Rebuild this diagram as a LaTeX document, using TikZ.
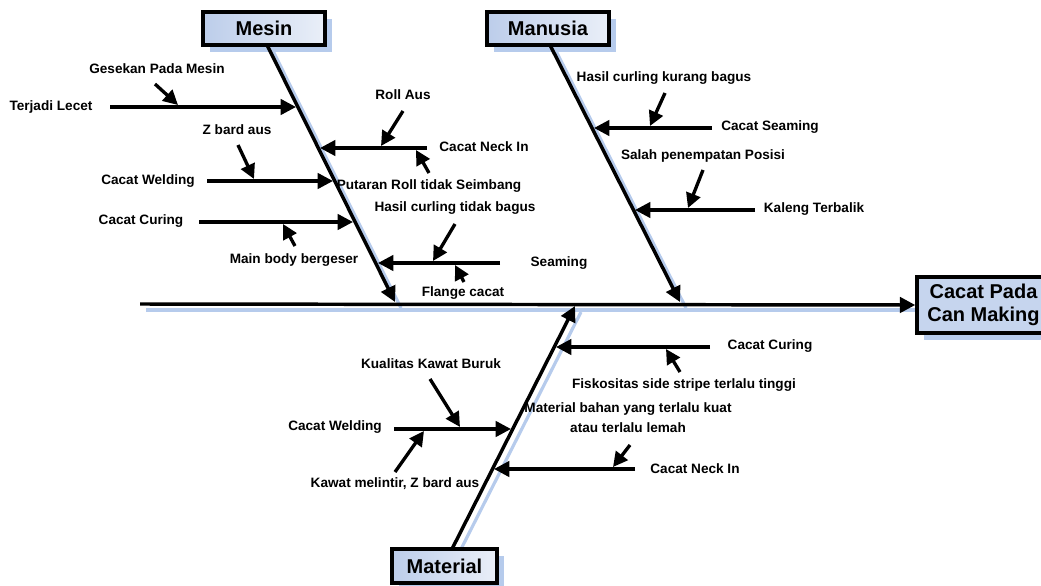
\documentclass[tikz,border=0pt]{standalone}
\usepackage{fontspec}
\setmainfont{Liberation Sans}
\usetikzlibrary{arrows.meta,shadows}
\definecolor{shcol}{RGB}{182,203,236}
\definecolor{boxL}{RGB}{188,205,234}
\definecolor{boxR}{RGB}{234,239,248}
\definecolor{boxE}{RGB}{198,213,238}
\begin{document}
\begin{tikzpicture}[x=0.75pt,y=-0.75pt,
  lbl/.style={font=\fontsize{10.2}{12}\selectfont\bfseries, inner sep=0pt, align=center},
  headbox/.style={draw, line width=2.6pt, font=\fontsize{15}{17}\selectfont\bfseries,
     left color=boxL, right color=boxR, inner sep=0pt,
     drop shadow={shadow xshift=5.2pt, shadow yshift=-5.2pt, fill=shcol, opacity=1}},
  effbox/.style={draw, line width=2.6pt, font=\fontsize{15}{17}\selectfont\bfseries,
     fill=boxE, inner sep=0pt, align=center,
     drop shadow={shadow xshift=5.2pt, shadow yshift=-5.2pt, fill=shcol, opacity=1}},
  bone/.style={line width=2.6pt, -{Triangle[length=11.5pt,width=11.5pt]}},
  branch/.style={line width=2.5pt, -{Triangle[length=11.5pt,width=11.5pt]}},
  sub/.style={line width=2.5pt, -{Triangle[length=11pt,width=11pt]}},
  shadowline/.style={line width=2.4pt, shcol}]
\useasboundingbox (0,0) rectangle (1041,585);

% shadows of spine and bones
\coordinate (ss1) at (146,310); \coordinate (ss2) at (1045,310);
\coordinate (ms1) at (273,51);  \coordinate (ms2) at (401,308);
\coordinate (hs1) at (556,51);  \coordinate (hs2) at (686,308);
\coordinate (ts1) at (458,555); \coordinate (ts2) at (581,312);
\draw[shadowline] (ss1) -- (ss2);
\draw[shadowline] (ms1) -- (ms2);
\draw[shadowline] (hs1) -- (hs2);
\draw[shadowline] (ts1) -- (ts2);

% category and effect boxes
\node[headbox, minimum width=91.5pt, minimum height=24.75pt] (mesin) at (264,28.5) {Mesin};
\node[headbox, minimum width=91.5pt, minimum height=24.75pt] (manusia) at (548,28.5) {Manusia};
\node[headbox, minimum width=78.75pt, minimum height=25.5pt] (material) at (444.5,566) {Material};
\node[effbox, minimum width=99.75pt, minimum height=42pt] (effect) at (983.5,305) {Cacat Pada\\Can Making};

% spine
\coordinate (sp0) at (140,304);
\draw[bone] (sp0) -- (effect.west);

% bones
\coordinate (mb0) at (267,45);  \coordinate (mb1) at (395,302);
\coordinate (hb0) at (550,45);  \coordinate (hb1) at (680,302);
\coordinate (tb0) at (452,549); \coordinate (tb1) at (575,306);
\draw[bone] (mb0) -- (mb1);
\draw[bone] (hb0) -- (hb1);
\draw[bone] (tb0) -- (tb1);

% ---------- Mesin ----------
\node[lbl] (a1) at (51,107) {Terjadi Lecet};
\coordinate (a1s) at (110,107); \coordinate (a1e) at (296,107);
\draw[branch] (a1s) -- (a1e);
\node[lbl] (a1x) at (157,69) {Gesekan Pada Mesin};
\coordinate (a1xs) at (155,84); \coordinate (a1xe) at (178,105);
\draw[sub] (a1xs) -- (a1xe);

\node[lbl] (a2) at (148,181) {Cacat Welding};
\coordinate (a2s) at (207,181); \coordinate (a2e) at (333,181);
\draw[branch] (a2s) -- (a2e);
\node[lbl] (a2x) at (237,130) {Z bard aus};
\coordinate (a2xs) at (238,145); \coordinate (a2xe) at (254,179);
\draw[sub] (a2xs) -- (a2xe);

\node[lbl] (a3) at (141,221) {Cacat Curing};
\coordinate (a3s) at (199,222); \coordinate (a3e) at (353,222);
\draw[branch] (a3s) -- (a3e);
\node[lbl] (a3x) at (294,260) {Main body bergeser};
\coordinate (a3xs) at (295,246); \coordinate (a3xe) at (283,224);
\draw[sub] (a3xs) -- (a3xe);

\node[lbl] (a4) at (484,147) {Cacat Neck In};
\coordinate (a4s) at (427,148); \coordinate (a4e) at (320,148);
\draw[branch] (a4s) -- (a4e);
\node[lbl] (a4x) at (403,95) {Roll Aus};
\coordinate (a4xs) at (403,111); \coordinate (a4xe) at (381,146);
\draw[sub] (a4xs) -- (a4xe);
\node[lbl] (a4y) at (429,186) {Putaran Roll tidak Seimbang};
\coordinate (a4ys) at (429,173); \coordinate (a4ye) at (416,150);
\draw[sub] (a4ys) -- (a4ye);

\node[lbl] (a5) at (559,263) {Seaming};
\coordinate (a5s) at (500,263); \coordinate (a5e) at (378,263);
\draw[branch] (a5s) -- (a5e);
\node[lbl] (a5x) at (455,208) {Hasil curling tidak bagus};
\coordinate (a5xs) at (455,224); \coordinate (a5xe) at (433,261);
\draw[sub] (a5xs) -- (a5xe);
\node[lbl] (a5y) at (463,293) {Flange cacat};
\coordinate (a5ys) at (464,282); \coordinate (a5ye) at (455,265);
\draw[sub] (a5ys) -- (a5ye);

% ---------- Manusia ----------
\node[lbl] (b1) at (770,127) {Cacat Seaming};
\coordinate (b1s) at (712,128); \coordinate (b1e) at (594,128);
\draw[branch] (b1s) -- (b1e);
\node[lbl] (b1x) at (664,78) {Hasil curling kurang bagus};
\coordinate (b1xs) at (665,93); \coordinate (b1xe) at (650,126);
\draw[sub] (b1xs) -- (b1xe);

\node[lbl] (b2) at (814,209) {Kaleng Terbalik};
\coordinate (b2s) at (755,210); \coordinate (b2e) at (635,210);
\draw[branch] (b2s) -- (b2e);
\node[lbl] (b2x) at (703,156) {Salah penempatan Posisi};
\coordinate (b2xs) at (703,170); \coordinate (b2xe) at (688,208);
\draw[sub] (b2xs) -- (b2xe);

% ---------- Material ----------
\node[lbl] (c1) at (770,346) {Cacat Curing};
\coordinate (c1s) at (710,347); \coordinate (c1e) at (556,347);
\draw[branch] (c1s) -- (c1e);
\node[lbl] (c1x) at (684,385) {Fiskositas side stripe terlalu tinggi};
\coordinate (c1xs) at (680,372); \coordinate (c1xe) at (666,349);
\draw[sub] (c1xs) -- (c1xe);

\node[lbl] (c2) at (335,427) {Cacat Welding};
\coordinate (c2s) at (394,429); \coordinate (c2e) at (511,429);
\draw[branch] (c2s) -- (c2e);
\node[lbl] (c2x) at (431,364) {Kualitas Kawat Buruk};
\coordinate (c2xs) at (430,379); \coordinate (c2xe) at (460,427);
\draw[sub] (c2xs) -- (c2xe);
\node[lbl] (c2y) at (395,484) {Kawat melintir, Z bard aus};
\coordinate (c2ys) at (395,472); \coordinate (c2ye) at (424,431);
\draw[sub] (c2ys) -- (c2ye);

\node[lbl] (c3) at (695,469) {Cacat Neck In};
\coordinate (c3s) at (635,469); \coordinate (c3e) at (494,469);
\draw[branch] (c3s) -- (c3e);
\node[lbl, font=\fontsize{10.2}{15}\selectfont\bfseries] (c3x) at (628,418) {Material bahan yang terlalu kuat\\atau terlalu lemah};
\coordinate (c3xs) at (630,445); \coordinate (c3xe) at (613,467);
\draw[sub] (c3xs) -- (c3xe);
\end{tikzpicture}
\end{document}
